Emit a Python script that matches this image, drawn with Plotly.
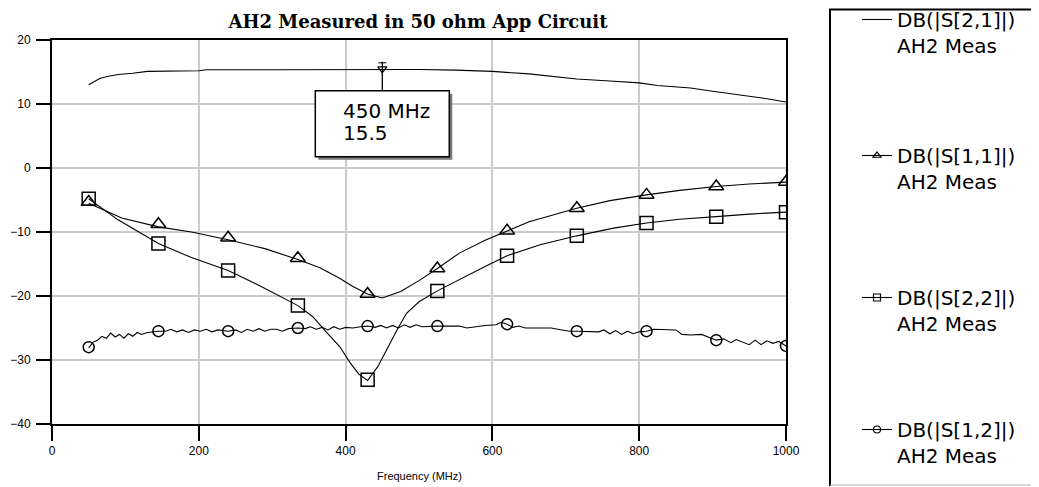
import plotly.graph_objects as go

# ---------------- data ----------------
TITLE = "AH2 Measured in 50 ohm App Circuit"
X_TITLE = "Frequency (MHz)"
X_TICKS = [0, 200, 400, 600, 800, 1000]
Y_TICKS = [-40, -30, -20, -10, 0, 10, 20]

# DB(|S[2,1]|) (line only)
s21_f = [50, 58, 65, 75, 90, 110, 130, 200, 210, 300, 390, 450, 500, 550, 600,
         650, 680, 715, 760, 800, 825, 870, 900, 940, 970, 1000]
s21_db = [13.0, 13.5, 14.0, 14.3, 14.6, 14.8, 15.1, 15.2, 15.35, 15.35, 15.4, 15.4, 15.4, 15.3, 15.1,
          14.7, 14.3, 13.9, 13.6, 13.3, 12.9, 12.5, 12.0, 11.4, 10.9, 10.3]

# DB(|S[1,1]|)
s11_f = [50, 95, 145, 190, 240, 290, 335, 365, 390, 410, 430, 450, 475, 500, 525,
         555, 590, 620, 650, 715, 760, 810, 855, 905, 950, 1000]
s11_db = [-5.5, -7.8, -9.2, -10.0, -11.2, -12.6, -14.3, -15.6, -17.1, -18.5, -19.7, -20.3, -19.3, -17.6, -15.7,
          -13.3, -11.3, -9.8, -8.4, -6.3, -5.1, -4.2, -3.5, -2.9, -2.5, -2.2]

# DB(|S[2,2]|)
s22_f = [50, 90, 145, 190, 240, 285, 335, 355, 375, 392, 406, 418, 430, 444, 456,
         470, 483, 500, 525, 555, 590, 620, 665, 715, 765, 810, 855, 905, 950, 1000]
s22_db = [-4.8, -8.1, -11.8, -14.0, -16.0, -18.5, -21.5, -23.2, -25.8, -27.9, -30.4, -32.2, -33.2, -31.0, -28.4,
          -25.3, -22.7, -20.9, -19.2, -17.4, -15.4, -13.7, -12.0, -10.6, -9.4, -8.6, -8.0, -7.6, -7.2, -6.9]

# DB(|S[1,2]|)
s12_f = [50, 56, 62, 68, 74, 80, 86, 92, 98, 104, 110, 116, 122, 130, 145, 155, 162, 170, 178, 186,
         194, 202, 210, 218, 226, 240, 250, 258, 266, 274, 282, 290, 298, 306, 314, 322, 335, 345, 352, 360,
         368, 376, 384, 392, 400, 410, 420, 430, 440, 448, 456, 464, 472, 480, 488, 496, 504, 515, 525, 540,
         555, 565, 575, 590, 605, 612, 620, 628, 636, 645, 660, 680, 695, 705, 715, 730, 745, 752, 760, 768,
         776, 784, 792, 800, 810, 820, 835, 850, 858, 870, 885, 895, 905, 915, 925, 932, 942, 950, 958, 966,
         974, 982, 990, 1000]
s12_db = [-28.1, -27.2, -26.9, -26.3, -26.6, -25.8, -26.4, -26.0, -26.6, -25.9, -26.3, -25.7, -26.0, -25.7, -25.5,
          -25.5, -25.2, -25.6, -25.3, -25.7, -25.3, -25.5, -25.2, -25.6, -25.3, -25.5, -25.3, -25.7, -25.2, -25.5,
          -25.1, -25.5, -25.2, -25.2, -25.5, -25.1, -25.0, -25.1, -24.8, -25.2, -24.9, -25.3, -24.8, -25.2, -24.9,
          -25.0, -24.8, -24.7, -24.9, -24.6, -25.0, -24.6, -25.0, -24.5, -24.9, -24.5, -24.8, -24.7, -24.7, -24.7,
          -24.7, -25.0, -24.8, -24.6, -24.5, -24.1, -24.4, -24.9, -24.7, -25.0, -25.0, -25.0, -25.3, -25.5, -25.5,
          -25.5, -25.6, -25.3, -25.9, -25.4, -26.0, -25.5, -25.9, -25.6, -25.5, -25.2, -25.3, -25.3, -26.0, -26.1,
          -26.0, -26.5, -26.9, -26.7, -27.3, -26.8, -27.2, -27.6, -26.9, -27.6, -27.0, -27.4, -27.1, -27.8]

# marker positions (every 95 MHz)
mk_f = [50, 145, 240, 335, 430, 525, 620, 715, 810, 905, 1000]
s11_mk = [-5.3, -8.8, -10.9, -14.1, -19.7, -15.7, -9.8, -6.3, -4.2, -2.9, -2.2]
s22_mk = [-4.8, -11.8, -16.0, -21.5, -33.1, -19.2, -13.7, -10.6, -8.6, -7.6, -6.9]
s12_mk = [-28.0, -25.5, -25.5, -25.0, -24.7, -24.7, -24.4, -25.5, -25.5, -26.9, -27.8]

# marker readout
MARK_F = 450
MARK_VAL = 15.5
MARK_TEXT1 = "450 MHz"
MARK_TEXT2 = "15.5"

LEG_NAMES = ["DB(|S[2,1]|)<br>AH2 Meas", "DB(|S[1,1]|)<br>AH2 Meas",
             "DB(|S[2,2]|)<br>AH2 Meas", "DB(|S[1,2]|)<br>AH2 Meas"]

# ---------------- figure ----------------
OFF = 8                       # page body margin
W, H = 1039 - OFF, 487 - OFF
# plot area in reference-page pixels
PX0, PX1, PY0, PY1 = 52, 786, 40, 424
L, R = PX0 - OFF, W - (PX1 - OFF)
T, B = PY0 - OFF, H - (PY1 - OFF)
PW, PH = PX1 - PX0, PY1 - PY0

def px2paper_x(px):
    return (px - PX0) / PW

def px2paper_y(py):
    return (PY1 - py) / PH

LINE = dict(color="black", width=1.1)
fig = go.Figure()

fig.add_trace(go.Scatter(x=s21_f, y=s21_db, mode="lines", line=LINE, showlegend=False))
fig.add_trace(go.Scatter(x=s11_f, y=s11_db, mode="lines", line=LINE, showlegend=False))
fig.add_trace(go.Scatter(x=s22_f, y=s22_db, mode="lines", line=LINE, showlegend=False))
fig.add_trace(go.Scatter(x=s12_f, y=s12_db, mode="lines", line=LINE, showlegend=False))

MK_LINE = dict(color="black", width=1.5)
fig.add_trace(go.Scatter(x=mk_f, y=s11_mk, mode="markers", showlegend=False,
                         marker=dict(symbol="triangle-up-open", size=13, color="black", line=MK_LINE)))
fig.add_trace(go.Scatter(x=mk_f, y=s22_mk, mode="markers", showlegend=False,
                         marker=dict(symbol="square-open", size=13, color="black", line=MK_LINE)))
fig.add_trace(go.Scatter(x=mk_f, y=s12_mk, mode="markers", showlegend=False,
                         marker=dict(symbol="circle-open", size=11, color="black", line=MK_LINE)))

# readout marker
fig.add_trace(go.Scatter(x=[MARK_F], y=[MARK_VAL], mode="markers", showlegend=False,
                         marker=dict(symbol="triangle-down-open", size=8, color="black",
                                     line=dict(color="black", width=1.3))))

# legend proxies (two legends, two entries each)
leg_syms = [None, "triangle-up-open", "square-open", "circle-open"]
leg_ids = ["legend", "legend", "legend2", "legend2"]
for i, (nm, sym, lid) in enumerate(zip(LEG_NAMES, leg_syms, leg_ids)):
    if sym is None:
        fig.add_trace(go.Scatter(x=[None], y=[None], mode="lines", name=nm, line=LINE,
                                 legendgroup=f"g{i}", legend=lid))
    else:
        fig.add_trace(go.Scatter(x=[None], y=[None], mode="lines+markers", name=nm, line=LINE,
                                 legendgroup=f"g{i}", legend=lid,
                                 marker=dict(symbol=sym, size=7, color="black",
                                             line=dict(color="black", width=1.2))))

# ---- readout box (shapes) ----
xs = PW / 1000.0   # px per MHz
ys = PH / 60.0     # px per dB
box_x0 = MARK_F - 67 / xs
box_x1 = MARK_F + 67 / xs
box_top = MARK_VAL - 22 / ys
box_bot = box_top - 66 / ys
sh = 3
shapes = [
    dict(type="rect", xref="x", yref="y", x0=box_x0 + sh / xs, x1=box_x1 + sh / xs,
         y0=box_bot - sh / ys, y1=box_top - sh / ys, fillcolor="#7a7a7a", line=dict(width=0), layer="above"),
    dict(type="rect", xref="x", yref="y", x0=box_x0, x1=box_x1, y0=box_bot, y1=box_top,
         fillcolor="white", line=dict(color="black", width=1.5), layer="above"),
    dict(type="line", xref="x", yref="y", x0=MARK_F, x1=MARK_F, y0=MARK_VAL + 7 / ys, y1=box_top,
         line=dict(color="black", width=1.3), layer="above"),
    dict(type="line", xref="x", yref="y", x0=MARK_F - 4 / xs, x1=MARK_F + 4 / xs,
         y0=MARK_VAL + 6 / ys, y1=MARK_VAL + 6 / ys, line=dict(color="black", width=1), layer="above"),
    # legend box
    dict(type="line", xref="paper", yref="paper", x0=px2paper_x(830), x1=px2paper_x(830),
         y0=px2paper_y(9), y1=px2paper_y(486), line=dict(color="black", width=2)),
    dict(type="line", xref="paper", yref="paper", x0=px2paper_x(829), x1=px2paper_x(1045),
         y0=px2paper_y(9.5), y1=px2paper_y(9.5), line=dict(color="black", width=2)),
    dict(type="line", xref="paper", yref="paper", x0=px2paper_x(830), x1=px2paper_x(1045),
         y0=px2paper_y(485), y1=px2paper_y(485), line=dict(color="#b0b0b0", width=1)),
]

TXT_FONT = dict(family="DejaVu Sans", size=20, color="black")
annotations = [
    dict(x=box_x0 + 26 / xs, y=box_top - 20 / ys, xref="x", yref="y", text=MARK_TEXT1,
         showarrow=False, xanchor="left", yanchor="middle", font=TXT_FONT),
    dict(x=box_x0 + 26 / xs, y=box_top - 42 / ys, xref="x", yref="y", text=MARK_TEXT2,
         showarrow=False, xanchor="left", yanchor="middle", font=TXT_FONT),
    dict(x=0.5, y=px2paper_y(476), xref="paper", yref="paper", text=X_TITLE, showarrow=False,
         xanchor="center", yanchor="middle",
         font=dict(family="Liberation Sans", size=11, color="black")),
]

axis_common = dict(showline=True, linecolor="black", linewidth=2, mirror=True,
                   showgrid=True, gridcolor="#cccccc", gridwidth=1.5, zeroline=False,
                   ticks="outside", tickcolor="black", tickwidth=1.5,
                   tickfont=dict(family="Liberation Sans", size=12, color="black"))

LEG_FONT = dict(family="DejaVu Sans", size=20, color="black")
fig.update_layout(
    width=W, height=H,
    margin=dict(l=L, r=R, t=T, b=B, autoexpand=False),
    paper_bgcolor="white", plot_bgcolor="white",
    title=dict(text="<b>" + TITLE + "</b>", x=px2paper_x(418), xref="paper", xanchor="center",
               y=1 - (22 - OFF) / H, yref="container", yanchor="middle",
               font=dict(family="DejaVu Serif", size=18, color="black")),
    xaxis=dict(range=[0, 1000], tickvals=X_TICKS, ticklen=15, **axis_common),
    yaxis=dict(range=[-40, 20], tickvals=Y_TICKS, ticklen=14, ticklabelstandoff=3, **axis_common),
    showlegend=True,
    legend=dict(x=px2paper_x(857), y=px2paper_y(0), xanchor="left", yanchor="top",
                xref="paper", yref="paper", font=LEG_FONT,
                bgcolor="rgba(0,0,0,0)", borderwidth=0, tracegroupgap=81,
                valign="top", itemwidth=30, traceorder="grouped"),
    legend2=dict(x=px2paper_x(857), y=px2paper_y(278), xanchor="left", yanchor="top",
                 xref="paper", yref="paper", font=LEG_FONT,
                 bgcolor="rgba(0,0,0,0)", borderwidth=0, tracegroupgap=77,
                 valign="top", itemwidth=30, traceorder="grouped"),
    shapes=shapes,
    annotations=annotations,
)

fig.write_html("out.html")
